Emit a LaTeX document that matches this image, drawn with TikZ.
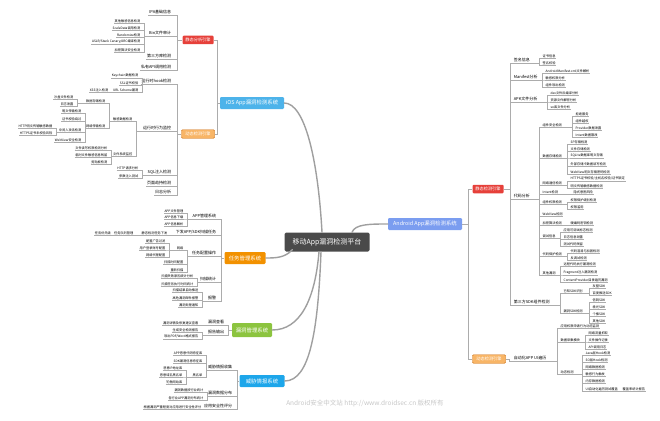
\documentclass[tikz,border=0pt]{standalone}
\usepackage{fontspec}
\setmainfont{Noto Sans CJK SC}

\definecolor{iosblue}{HTML}{4DB3EA}
\definecolor{andblue}{HTML}{7B9DF0}
\definecolor{taskorg}{HTML}{F29100}
\definecolor{vulgrn}{HTML}{8CC43F}
\definecolor{thrblue}{HTML}{1DA6EA}
\definecolor{engred}{HTML}{E6403A}
\definecolor{engorg}{HTML}{F8B566}
\definecolor{coredark}{HTML}{4A4A4A}

\tikzset{
	ln/.style={draw=gray!65, line width=0.35pt},
	ul/.style={append after command={(\tikzlastnode.south west) edge[ln] (\tikzlastnode.south east)}},
	ll/.style={ul, anchor=south east, inner sep=0.5pt, font=\fontsize{3.2}{3.6}\selectfont},
	rl/.style={ul, anchor=south west, inner sep=0.5pt, font=\fontsize{3.2}{3.6}\selectfont},
	lm/.style={ul, anchor=south east, inner sep=0.6pt, font=\fontsize{4}{4.5}\selectfont},
	rm/.style={ul, anchor=south west, inner sep=0.6pt, font=\fontsize{4}{4.5}\selectfont},
	sysbox/.style={rounded corners=1.2pt, text=white, inner sep=2.5pt, minimum height=12pt, font=\fontsize{5.4}{6}\selectfont},
	engbox/.style={rounded corners=1pt, text=white, inner sep=1.6pt, minimum height=8.5pt, font=\fontsize{4.2}{4.8}\selectfont},
	trunk/.style={draw=gray!75, line width=1.4pt, line cap=round},
}

\begin{document}
\begin{tikzpicture}[x=1pt, y=-1pt]
	\useasboundingbox (0,0) rectangle (660,420);
	% centre and systems
	\node[fill=coredark, rounded corners=1.5pt, text=white, font=\fontsize{7}{8}\selectfont, minimum width=85pt, minimum height=19pt, inner sep=2pt] (mp) at (327,242) {移动App漏洞检测平台};
	\node[sysbox, fill=iosblue, minimum width=64pt] (ios) at (252,103) {iOS App漏洞检测系统};
	\node[sysbox, fill=andblue, minimum width=74pt] (and) at (425,224) {Android App漏洞检测系统};
	\node[sysbox, fill=taskorg, minimum width=41pt] (tm) at (245,258) {任务管理系统};
	\node[sysbox, fill=vulgrn, minimum width=40pt, minimum height=14pt] (vm) at (252,330) {漏洞管理系统};
	\node[sysbox, fill=thrblue, minimum width=45pt] (ti) at (262,381) {威胁情报系统};
	\node[engbox, fill=engred, minimum width=31pt] (sa) at (198,40) {静态分析引擎};
	\node[engbox, fill=engorg, draw=orange!80!black, minimum width=33pt] (dy) at (198,134) {动态检测引擎};
	\node[engbox, fill=engred, minimum width=31pt] (se) at (488,189) {静态检测引擎};
	\node[engbox, fill=engorg, draw=orange!80!black, minimum width=33pt] (dr) at (489,359) {动态检测引擎};
	\draw[trunk] ([xshift=-5pt]mp.north) .. controls (318,160) and (305,103) .. (ios.east);
	\draw[trunk] ([xshift=25pt]mp.north) .. controls (355,224) and (370,224) .. (and.west);
	\draw[trunk] ([xshift=8pt,yshift=2pt]mp.south west) .. controls (285,258) and (275,258) .. (tm.east);
	\draw[trunk] ([xshift=-8pt]mp.south) .. controls (315,300) and (300,330) .. (vm.east);
	\draw[trunk] ([xshift=-6pt]mp.south) .. controls (318,330) and (310,381) .. (ti.east);

	% iOS static engine
	\node[lm] (a1) at (172,15) {IPA基础信息};
	\node[lm] (a2) at (172,36) {Bin文件审计};
	\node[ll] (a21) at (141,23) {其他敏感信息检测};
	\node[ll] (a22) at (141,30) {ScaleData调用检测};
	\node[ll] (a23) at (141,37) {Randomize检测};
	\node[ll] (a24) at (141,44) {ASLR/Stack Canary/ARC编译检测};
	\node[ll] (a25) at (141,52) {加密算法安全检测};
	\node[lm] (a3) at (172,59) {第三方库检测};
	\node[lm] (a4) at (172,70) {私有API调用检测};
	\draw[ln] (ios.west) -- ++(-3,0) |- (sa.east);
	\draw[ln] (ios.west) -- ++(-3,0) |- (dy.east);
	\foreach \c in {a1,a2,a3,a4} \draw[ln] (\c.south east) -- ++(5,0) |- (sa.west);
	\foreach \c in {a21,a22,a23,a24,a25} \draw[ln] (\c.south east) -- ++(3,0) |- (a2.south west);

	% iOS dynamic engine
	\node[lm] (b1) at (172,84) {运行时hook检测};
	\node[ll] (b11) at (139,78) {Keychain数据检测};
	\node[ll] (b12) at (139,85) {SSL证书校验};
	\node[ll] (b13) at (139,92) {URL Scheme漏洞};
	\node[ll] (b131) at (109,92) {XSS注入检测};
	\node[lm] (b2) at (172,131) {运行时行为监控};
	\node[ll] (b21) at (133,121) {敏感数据检测};
	\node[ll] (b211) at (106,103) {数据存储检测};
	\node[ll] (b2111) at (74,99) {沙盒文件检测};
	\node[ll] (b2112) at (74,106) {日志泄露};
	\node[ll] (b212) at (106,128) {网络传输检测};
	\node[ll] (b2121) at (82,113) {明文传输检测};
	\node[ll] (b2122) at (82,121) {证书校验绕过};
	\node[ll] (b2123) at (82,132) {中间人攻击检测};
	\node[ll] (b21231) at (53,128) {HTTP明文传输敏感数据};
	\node[ll] (b21232) at (53,135) {HTTPS证书未校验风险};
	\node[ll] (b2124) at (82,142) {WebView安全检测};
	\node[ll] (b22) at (133,156) {文件系统监控};
	\node[ll] (b221) at (108,150) {文件读写权限检测分析};
	\node[ll] (b222) at (108,157) {临时文件敏感信息残留};
	\node[ll] (b223) at (108,164) {剪贴板检测};
	\node[lm] (b3) at (172,175) {SQL注入检测};
	\node[ll] (b31) at (139,170) {HTTP请求分析};
	\node[ll] (b32) at (139,178) {参数注入测试};
	\node[lm] (b4) at (172,186) {页面劫持检测};
	\node[lm] (b5) at (172,195) {日志分析};
	\foreach \c in {b1,b2,b3,b4,b5} \draw[ln] (\c.south east) -- ++(5,0) |- (dy.west);
	\foreach \c in {b11,b12,b13} \draw[ln] (\c.south east) -- ++(3,0) |- (b1.south west);
	\draw[ln] (b131.south east) -- (b13.south west);
	\foreach \c in {b21,b22} \draw[ln] (\c.south east) -- ++(3,0) |- (b2.south west);
	\foreach \c in {b211,b212} \draw[ln] (\c.south east) -- ++(3,0) |- (b21.south west);
	\foreach \c in {b2111,b2112} \draw[ln] (\c.south east) -- ++(3,0) |- (b211.south west);
	\foreach \c in {b2121,b2122,b2123,b2124} \draw[ln] (\c.south east) -- ++(3,0) |- (b212.south west);
	\foreach \c in {b21231,b21232} \draw[ln] (\c.south east) -- ++(3,0) |- (b2123.south west);
	\foreach \c in {b221,b222,b223} \draw[ln] (\c.south east) -- ++(3,0) |- (b22.south west);
	\foreach \c in {b31,b32} \draw[ln] (\c.south east) -- ++(3,0) |- (b3.south west);

	% task management
	\node[lm] (c1) at (217,219) {APP管理系统};
	\node[ll] (c11) at (184,213) {APP文件管理};
	\node[ll] (c12) at (184,219) {APP信息下载};
	\node[ll] (c13) at (184,226) {APP信息解析};
	\node[lm] (c2) at (217,235) {下发APP/SDK扫描任务};
	\node[ll] (c21) at (168,235) {静态检测任务下发};
	\node[ll] (c211) at (134,235) {任务优先级\quad 任务队列管理};
	\node[lm] (c3) at (217,256) {任务配置操作};
	\node[ll] (c31) at (184,250) {网络};
	\node[ll] (c311) at (166,243) {配置广告过滤};
	\node[ll] (c312) at (166,250) {用户登录账号配置};
	\node[ll] (c313) at (166,257) {网络代理配置};
	\node[ll] (c32) at (184,264) {扫描时间配置};
	\node[ll] (c33) at (184,272) {重新扫描};
	\node[lm] (c4) at (217,282) {扫描统计};
	\node[ll] (c41) at (194,278) {扫描失败原因统计分析};
	\node[ll] (c42) at (194,286) {扫描任务执行时间统计};
	\node[lm] (c5) at (217,301) {报警};
	\node[ll] (c51) at (199,292) {扫描结果自动推送};
	\node[ll] (c52) at (199,300) {高危漏洞邮件报警};
	\node[ll] (c53) at (199,307) {漏洞处理通知};
	\foreach \c in {c1,c2,c3,c4,c5} \draw[ln] (\c.south east) -- ++(4,0) |- (tm.west);
	\foreach \c in {c11,c12,c13} \draw[ln] (\c.south east) -- ++(3,0) |- (c1.south west);
	\draw[ln] (c21.south east) -- (c2.south west);
	\draw[ln] (c211.south east) -- (c21.south west);
	\foreach \c in {c31,c32,c33} \draw[ln] (\c.south east) -- ++(3,0) |- (c3.south west);
	\foreach \c in {c311,c312,c313} \draw[ln] (\c.south east) -- ++(3,0) |- (c31.south west);
	\foreach \c in {c41,c42} \draw[ln] (\c.south east) -- ++(3,0) |- (c4.south west);
	\foreach \c in {c51,c52,c53} \draw[ln] (\c.south east) -- ++(3,0) |- (c5.south west);

	% vulnerability management
	\node[lm] (d1) at (225,325) {漏洞查看};
	\node[ll] (d11) at (199,325) {漏洞详情及修复建议查看};
	\node[lm] (d2) at (225,335) {报告输出};
	\node[ll] (d21) at (199,332) {生成安全检测报告};
	\node[ll] (d22) at (199,339) {导出PDF/Word格式报告};
	\foreach \c in {d1,d2} \draw[ln] (\c.south east) -- ++(3,0) |- (vm.west);
	\draw[ln] (d11.south east) -- (d1.south west);
	\foreach \c in {d21,d22} \draw[ln] (\c.south east) -- ++(3,0) |- (d2.south west);

	% threat intelligence
	\node[lm] (e1) at (233,370) {威胁情报收集};
	\node[ll] (e11) at (203,355) {APP恶意代码特征库};
	\node[ll] (e12) at (203,363) {SDK漏洞信息特征库};
	\node[ll] (e13) at (203,377) {黑名单};
	\node[ll] (e131) at (183,370) {恶意IP地址库};
	\node[ll] (e132) at (183,377) {恶意域名黑名单};
	\node[ll] (e133) at (183,384) {钓鱼网站库};
	\node[lm] (e2) at (233,396) {漏洞数据分布};
	\node[ll] (e21) at (204,392) {漏洞数据按行业统计};
	\node[ll] (e22) at (204,400) {各行业APP漏洞分布统计};
	\node[lm] (e3) at (233,409) {应用安全性评分};
	\node[ll] (e31) at (202,409) {根据漏洞严重程度对应用进行安全性评分};
	\foreach \c in {e1,e2,e3} \draw[ln] (\c.south east) -- ++(4,0) |- (ti.west);
	\foreach \c in {e11,e12,e13} \draw[ln] (\c.south east) -- ++(3,0) |- (e1.south west);
	\foreach \c in {e131,e132,e133} \draw[ln] (\c.south east) -- ++(3,0) |- (e13.south west);
	\foreach \c in {e21,e22} \draw[ln] (\c.south east) -- ++(3,0) |- (e2.south west);
	\draw[ln] (e31.south east) -- (e3.south west);

	% Android static engine
	\node[rm] (f1) at (513,63) {签名信息};
	\node[rl] (f11) at (542,58) {证书信息};
	\node[rl] (f12) at (542,65) {签名校验};
	\node[rm] (f2) at (513,80) {Manifest分析};
	\node[rl] (f21) at (545,73) {AndroidManifest.xml文件解析};
	\node[rl] (f22) at (545,80) {敏感权限分析};
	\node[rl] (f23) at (545,87) {组件导出检测};
	\node[rm] (f3) at (513,102) {APK文件分析};
	\node[rl] (f31) at (550,95) {dex文件反编译分析};
	\node[rl] (f32) at (550,102) {资源文件解密分析};
	\node[rl] (f33) at (550,109) {so库文件分析};
	\node[rm] (f4) at (513,199) {代码分析};
	\node[rl] (g1) at (542,127) {组件安全检测};
	\node[rl] (g11) at (575,116) {拒绝服务};
	\node[rl] (g12) at (575,123) {组件越权};
	\node[rl] (g13) at (575,130) {Provider数据泄露};
	\node[rl] (g14) at (575,137) {Intent数据篡改};
	\node[rl] (g2) at (542,158) {数据存储检测};
	\node[rl] (g21) at (570,144) {SP存储检测};
	\node[rl] (g22) at (570,151) {文件存储检测};
	\node[rl] (g23) at (570,158) {SQLite数据库明文存储};
	\node[rl] (g24) at (570,166) {外部存储卡数据读写检测};
	\node[rl] (g25) at (570,174) {WebView明文存储密码检测};
	\node[rl] (g3) at (542,185) {网络通信检测};
	\node[rl] (g31) at (570,181) {HTTPS证书校验/主机名校验/证书锁定};
	\node[rl] (g32) at (570,188) {明文传输敏感数据检测};
	\node[rl] (g4) at (542,194) {Intent检测};
	\node[rl] (g41) at (573,194) {隐式意图风险};
	\node[rl] (g5) at (542,204) {组件权限检测};
	\node[rl] (g51) at (570,202) {权限保护级别检测};
	\node[rl] (g52) at (570,209) {权限滥用};
	\node[rl] (g6) at (542,216) {WebView检测};
	\node[rl] (g7) at (542,225) {加密算法检测};
	\node[rl] (g71) at (570,225) {硬编码密钥检测};
	\node[rl] (g8) at (542,238) {调试信息};
	\node[rl] (g81) at (563,232) {应用可调试标志检测};
	\node[rl] (g82) at (563,239) {日志信息泄露};
	\node[rl] (g83) at (563,246) {测试代码残留};
	\node[rl] (g9) at (542,256) {代码保护检测};
	\node[rl] (g91) at (570,253) {代码混淆与加固检测};
	\node[rl] (g92) at (570,260) {反调试检测};
	\node[rl] (g10) at (542,275) {其他漏洞};
	\node[rl] (g101) at (563,266) {远程代码执行漏洞检测};
	\node[rl] (g102) at (563,275) {Fragment注入漏洞检测};
	\node[rl] (g103) at (563,282) {ContentProvider目录遍历漏洞};
	\node[rm] (f5) at (513,305) {第三方SDK组件检测};
	\node[rl] (h1) at (563,293) {已知SDK识别};
	\node[rl] (h11) at (592,288) {友盟SDK};
	\node[rl] (h12) at (592,295) {百度推送SDK};
	\node[rl] (h2) at (563,313) {漏洞SDK检测};
	\node[rl] (h21) at (592,302) {信鸽SDK};
	\node[rl] (h22) at (592,309) {极光SDK};
	\node[rl] (h23) at (592,316) {个推SDK};
	\node[rl] (h24) at (592,323) {其他SDK};
	\draw[ln] (and.east) -- ++(6,0) |- (se.west);
	\draw[ln] (and.east) -- ++(6,0) |- (dr.west);
	\foreach \c in {f1,f2,f3,f4,f5} \draw[ln] (\c.south west) -- ++(-3,0) |- (se.east);
	\foreach \c in {f11,f12} \draw[ln] (\c.south west) -- ++(-3,0) |- (f1.south east);
	\foreach \c in {f21,f22,f23} \draw[ln] (\c.south west) -- ++(-3,0) |- (f2.south east);
	\foreach \c in {f31,f32,f33} \draw[ln] (\c.south west) -- ++(-3,0) |- (f3.south east);
	\foreach \c in {g1,g2,g3,g4,g5,g6,g7,g8,g9,g10} \draw[ln] (\c.south west) -- ++(-3,0) |- (f4.south east);
	\foreach \c in {g11,g12,g13,g14} \draw[ln] (\c.south west) -- ++(-3,0) |- (g1.south east);
	\foreach \c in {g21,g22,g23,g24,g25} \draw[ln] (\c.south west) -- ++(-3,0) |- (g2.south east);
	\foreach \c in {g31,g32} \draw[ln] (\c.south west) -- ++(-3,0) |- (g3.south east);
	\draw[ln] (g41.south west) -- (g4.south east);
	\foreach \c in {g51,g52} \draw[ln] (\c.south west) -- ++(-3,0) |- (g5.south east);
	\draw[ln] (g71.south west) -- (g7.south east);
	\foreach \c in {g81,g82,g83} \draw[ln] (\c.south west) -- ++(-3,0) |- (g8.south east);
	\foreach \c in {g91,g92} \draw[ln] (\c.south west) -- ++(-3,0) |- (g9.south east);
	\foreach \c in {g101,g102,g103} \draw[ln] (\c.south west) -- ++(-3,0) |- (g10.south east);
	\foreach \c in {h1,h2} \draw[ln] (\c.south west) -- ++(-3,0) |- (f5.south east);
	\foreach \c in {h11,h12} \draw[ln] (\c.south west) -- ++(-3,0) |- (h1.south east);
	\foreach \c in {h21,h22,h23,h24} \draw[ln] (\c.south west) -- ++(-3,0) |- (h2.south east);

	% Android dynamic engine
	\node[rm] (i1) at (513,361) {自动化APP UI遍历};
	\node[rl] (j1) at (560,328) {应用权限申请行为动态监测};
	\node[rl] (j2) at (560,342) {数据采集模块};
	\node[rl] (j21) at (588,335) {网络流量抓取};
	\node[rl] (j22) at (588,342) {文件操作记录};
	\node[rl] (j23) at (588,349) {API调用日志};
	\node[rl] (j3) at (560,374) {动态检测};
	\node[rl] (j31) at (585,355) {Java层Hook检测};
	\node[rl] (j32) at (585,362) {SO层Hook检测};
	\node[rl] (j33) at (585,369) {网络数据检测};
	\node[rl] (j34) at (585,376) {敏感行为触发};
	\node[rl] (j35) at (585,383) {内存数据检测};
	\node[rl] (j36) at (585,391) {UI自动化遍历测试覆盖};
	\node[rl] (j361) at (622,391) {覆盖率统计报告};
	\draw[ln] (i1.south west) -- ++(-4,0) |- (dr.east);
	\foreach \c in {j1,j2,j3} \draw[ln] (\c.south west) -- ++(-3,0) |- (i1.south east);
	\foreach \c in {j21,j22,j23} \draw[ln] (\c.south west) -- ++(-3,0) |- (j2.south east);
	\foreach \c in {j31,j32,j33,j34,j35,j36} \draw[ln] (\c.south west) -- ++(-3,0) |- (j3.south east);
	\draw[ln] (j361.south west) -- (j36.south east);

	\node[font=\fontsize{6.5}{7}\selectfont, text=gray!45] (wm) at (365,403) {Android安全中文站 http://www.droidsec.cn 版权所有};
\end{tikzpicture}
\end{document}
